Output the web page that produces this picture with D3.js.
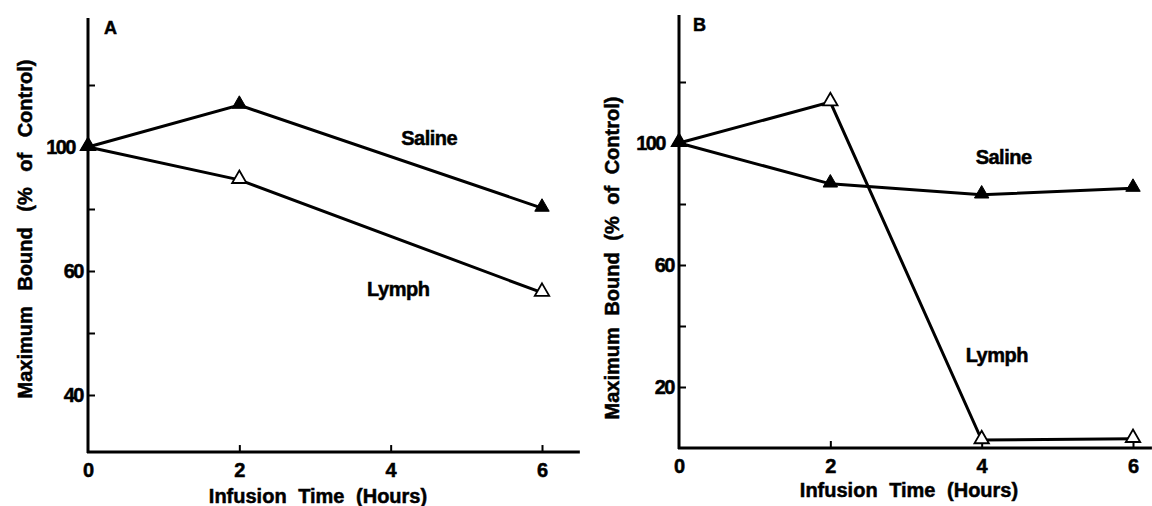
<!DOCTYPE html>
<html>
<head>
<meta charset="utf-8">
<script src="https://cdn.jsdelivr.net/npm/d3@7"></script>
<style>
	body { margin: 0; background: #fff; }
	svg { display: block; }
	text { font-family: "Liberation Sans", Arial, sans-serif; font-weight: bold; fill: #000; stroke: #000; stroke-width: 0.5px; }
</style>
</head>
<body>
<script>
	// infusion time (hours)
	var hours = [0, 2, 4, 6];

	// panel A
	var salineA = [100, 113.5, null, 80.3];
	var lymphA = [100, 89.4, null, 56.5];
	var yTicksA = [40, 50, 60, 80, 100, 120];
	var yLabelsA = ['40', '', '60', '', '100', ''];

	// panel B
	var salineB = [100, 86.6, 83.0, 85.2];
	var lymphB = [100, 113.4, 2.6, 3.0];
	var yTicksB = [20, 40, 60, 80, 100, 120];
	var yLabelsB = ['20', '', '60', '', '100', ''];

	var xTicks = [0, 2, 4, 6];
	var xLabels = ['0', '2', '4', '6'];

	var svg = d3.select('body').append('svg')
		.attr('width', 1152)
		.attr('height', 506);

	function drawPanel(p) {
		var g = svg.append('g');
		var x = d3.scaleLinear().domain([0, 6]).range([p.left, p.left + 454]);
		var y = p.y;

		// axis lines
		g.append('line')
			.attr('x1', x(0)).attr('x2', x(0))
			.attr('y1', y(p.yMin) + 1).attr('y2', y(p.yMax))
			.attr('stroke', '#000').attr('stroke-width', 3);
		g.append('line')
			.attr('x1', x(0) - 1).attr('x2', x(p.xMax))
			.attr('y1', y(p.yMin)).attr('y2', y(p.yMin))
			.attr('stroke', '#000').attr('stroke-width', 3);

		// y ticks point inward
		var yAxis = d3.axisLeft(y)
			.tickValues(p.yTicks)
			.tickSize(-7)
			.tickPadding(5)
			.tickFormat(function(d, i) { return p.yLabels[i]; });
		var ya = g.append('g').attr('transform', 'translate(' + x(0) + ',0)').call(yAxis);
		ya.select('.domain').remove();
		ya.selectAll('.tick line').attr('stroke', '#000').attr('stroke-width', 2);
		ya.selectAll('.tick text')
			.attr('font-size', 20).attr('letter-spacing', -1.5)
			.attr('dx', function(d) { return d === 100 ? p.hundredShift : 0; })
			.style('font-family', '"Liberation Sans", Arial, sans-serif').style('font-weight', 'bold');

		var xAxis = d3.axisBottom(x)
			.tickValues(xTicks)
			.tickSize(-7)
			.tickPadding(11)
			.tickFormat(function(d, i) { return xLabels[i]; });
		var xa = g.append('g').attr('transform', 'translate(0,' + y(p.yMin) + ')').call(xAxis);
		xa.select('.domain').remove();
		xa.selectAll('.tick line').attr('stroke', '#000').attr('stroke-width', 2);
		xa.selectAll('.tick line').filter(function(d) { return d === 0; }).remove();
		xa.selectAll('.tick text')
			.attr('font-size', 20)
			.style('font-family', '"Liberation Sans", Arial, sans-serif').style('font-weight', 'bold');

		// series
		var line = d3.line()
			.x(function(d) { return x(d[0]); })
			.y(function(d) { return y(d[1]); });

		function pts(vals) {
			return hours.map(function(h, i) { return [h, vals[i]]; })
				.filter(function(d) { return d[1] != null; });
		}

		var tri = d3.symbol().type(d3.symbolTriangle).size(90);

		[p.lymph, p.saline].forEach(function(s) {
			g.append('path')
				.datum(pts(s))
				.attr('d', line)
				.attr('fill', 'none')
				.attr('stroke', '#000')
				.attr('stroke-width', 3);
		});

		[[p.lymph, false], [p.saline, true]].forEach(function(s) {
			g.selectAll(null)
				.data(pts(s[0]))
				.enter()
				.append('path')
				.attr('d', tri)
				.attr('transform', function(d) { return 'translate(' + x(d[0]) + ',' + (y(d[1]) - 1) + ')'; })
				.attr('fill', s[1] ? '#000' : '#fff')
				.attr('stroke', '#000')
				.attr('stroke-width', s[1] ? 1 : 1.8);
		});

		// series labels
		p.notes.forEach(function(n) {
			g.append('text')
				.attr('x', x(n[1])).attr('y', y(n[2]))
				.attr('text-anchor', 'middle')
				.attr('dy', '0.35em')
				.attr('font-size', 20)
				.attr('letter-spacing', -0.5)
				.text(n[0]);
		});

		// panel letter
		g.append('text')
			.attr('x', p.letterX).attr('y', p.letterY)
			.attr('font-size', 18)
			.text(p.letter);

		// axis titles
		g.append('text')
			.attr('x', (x(0) + x(6)) / 2 + 3)
			.attr('y', p.xTitleY)
			.attr('text-anchor', 'middle')
			.attr('font-size', 20)
			.attr('word-spacing', 6)
			.text('Infusion Time (Hours)');

		g.append('text')
			.attr('transform', 'translate(' + p.yTitleX + ',' + p.yTitleY + ') rotate(-90)')
			.attr('text-anchor', 'middle')
			.attr('font-size', 20)
			.attr('word-spacing', p.yTitleSpacing)
			.text('Maximum Bound (% of Control)');
	}

	// panel A: axis spacing follows the printed labels (40, 60, 100)
	drawPanel({
		left: 88,
		y: d3.scaleLinear().domain([40, 60, 100]).range([395, 271, 147]),
		yMin: 30.8, yMax: 141.6, xMax: 6.5,
		yTicks: yTicksA, yLabels: yLabelsA, hundredShift: -8,
		saline: salineA, lymph: lymphA,
		notes: [['Saline', 4.51, 102.9], ['Lymph', 4.1, 57.1]],
		letter: 'A', letterX: 104, letterY: 34,
		xTitleY: 503,
		yTitleX: 32, yTitleY: 229, yTitleSpacing: 10
	});

	drawPanel({
		left: 679,
		y: d3.scaleLinear().domain([0, 120]).range([448, 82]),
		yMin: 0, yMax: 142, xMax: 6.25,
		yTicks: yTicksB, yLabels: yLabelsB, hundredShift: -9,
		saline: salineB, lymph: lymphB,
		notes: [['Saline', 4.29, 95.4], ['Lymph', 4.2, 30.5]],
		letter: 'B', letterX: 693, letterY: 31,
		xTitleY: 497,
		yTitleX: 619, yTitleY: 258, yTitleSpacing: 6
	});
</script>
</body>
</html>
